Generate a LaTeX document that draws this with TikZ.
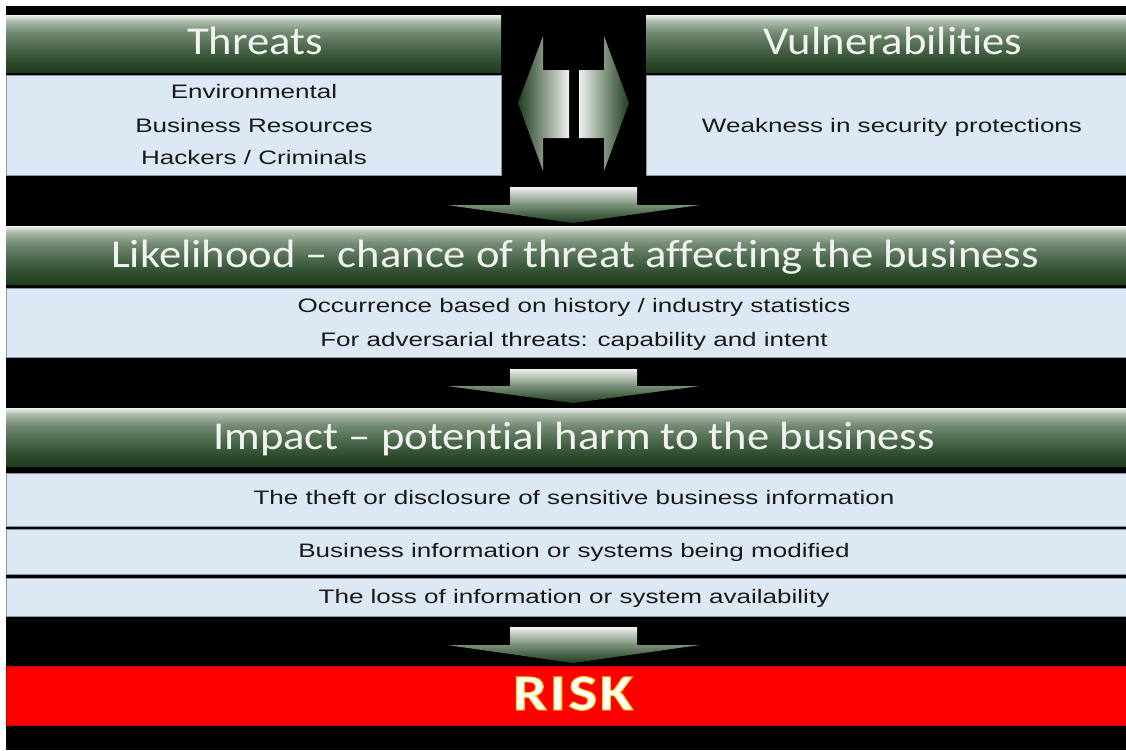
\documentclass[tikz,border=0pt]{standalone}
\usepackage{fontspec}
\setmainfont{Liberation Sans}
\newfontfamily\hdrfont[Ligatures={NoCommon,TeX}]{Carlito}
\usepackage{graphicx}
\definecolor{bodyfill}{RGB}{220,232,244}
\definecolor{bodyline}{RGB}{140,150,165}
\definecolor{gdark}{RGB}{30,62,30}
\definecolor{gd2}{RGB}{40,72,40}
\definecolor{gm1}{RGB}{70,100,70}
\definecolor{gm2}{RGB}{115,138,115}
\definecolor{gl2}{RGB}{175,188,175}
\definecolor{glight}{RGB}{238,241,238}
\definecolor{gmid}{RGB}{120,142,120}
\definecolor{hdrwhite}{RGB}{242,242,242}
\definecolor{riskred}{RGB}{255,0,0}
\definecolor{riskedge}{RGB}{200,0,0}
\pgfdeclareverticalshading{hdrshade}{100bp}{color(0bp)=(gdark); color(25bp)=(gdark); color(32bp)=(gd2); color(45bp)=(gm1); color(60bp)=(gm2); color(70bp)=(gl2); color(75bp)=(glight); color(100bp)=(glight)}
\newcommand{\hdrstretch}[1]{\scalebox{1.13}[1]{#1}}
\newcommand{\bodystretch}[1]{\scalebox{1.335}[1]{#1}}
\newcommand{\outlinedtext}[1]{\textcolor{white}{\special{pdf:literal direct 2 Tr 0.9 w 1 0.8 0 RG}#1\special{pdf:literal direct 0 Tr}}}
\tikzset{
  hdrbox/.style={shade, shading=hdrshade, draw=none, anchor=north west, inner sep=0pt, outer sep=0pt},
  bodybox/.style={fill=bodyfill, draw=bodyline, line width=0.8pt, anchor=north west, inner sep=0pt, outer sep=0pt},
  hdrtext/.style={text=hdrwhite, font=\hdrfont\fontsize{39.5}{44}\selectfont, anchor=base, inner sep=0pt},
  bodytext/.style={text=black!90, font=\fontsize{19.5}{23}\selectfont, anchor=base, inner sep=0pt},
  downarrow/.style={top color=glight, bottom color=gdark, middle color=gmid},
  riskbox/.style={fill=riskred, draw=riskedge, line width=1pt, anchor=north west, inner sep=0pt, outer sep=0pt},
}
\begin{document}
\begin{tikzpicture}[x=1pt,y=-1pt]
\useasboundingbox (0,0) rectangle (1126,750);
\fill[white] (0,0) rectangle (1126,750);
\fill[black] (6,6) rectangle (1126,750);
\begin{scope}
\clip (6,6) rectangle (1126,750);
% Threats
\node[hdrbox, minimum width=495, minimum height=57] (thrH) at (6,15) {};
\node[bodybox, minimum width=495, minimum height=100] (thrB) at (6,75) {};
\node[hdrtext] (thrT) at (255,54) {\hdrstretch{Threats}};
\node[bodytext] (thr1) at (254,98) {\bodystretch{Environmental}};
\node[bodytext] (thr2) at (254,132) {\bodystretch{Business Resources}};
\node[bodytext] (thr3) at (254,164) {\bodystretch{Hackers / Criminals}};
% Vulnerabilities
\node[hdrbox, minimum width=494, minimum height=57] (vulH) at (646,15) {};
\node[bodybox, minimum width=494, minimum height=100] (vulB) at (646,75) {};
\node[hdrtext] (vulT) at (893,54) {\hdrstretch{Vulnerabilities}};
\node[bodytext] (vul1) at (892,132) {\bodystretch{Weakness in security protections}};
% double arrow
\shade[left color=gdark, right color=glight] (518,103) -- (543,36) -- (543,70) -- (569,70) -- (569,138) -- (543,138) -- (543,171) -- cycle;
\shade[left color=glight, right color=gdark] (629,103) -- (604,36) -- (604,70) -- (579,70) -- (579,138) -- (604,138) -- (604,171) -- cycle;
% arrow 1
\shade[downarrow] (510,187) -- (637,187) -- (637,205) -- (700,205) -- (573,223) -- (447,205) -- (510,205) -- cycle;
% Likelihood
\node[hdrbox, minimum width=1134, minimum height=58] (likH) at (6,226) {};
\node[bodybox, minimum width=1134, minimum height=69] (likB) at (6,288) {};
\node[hdrtext] (likT) at (575,267) {\hdrstretch{Likelihood – chance of threat affecting the business}};
\node[bodytext] (lik1) at (574,312) {\bodystretch{Occurrence based on history / industry statistics}};
\node[bodytext] (lik2) at (574,346) {\bodystretch{For adversarial threats: capability and intent}};
% arrow 2
\shade[downarrow] (510,369) -- (637,369) -- (637,386) -- (700,386) -- (573,403) -- (447,386) -- (510,386) -- cycle;
% Impact
\node[hdrbox, minimum width=1134, minimum height=58] (impH) at (6,408) {};
\node[hdrtext] (impT) at (574,449) {\hdrstretch{Impact – potential harm to the business}};
\node[bodybox, minimum width=1134, minimum height=53] (impB1) at (6,473) {};
\node[bodybox, minimum width=1134, minimum height=45] (impB2) at (6,529) {};
\node[bodybox, minimum width=1134, minimum height=38] (impB3) at (6,578) {};
\node[bodytext] (imp1) at (574,504) {\bodystretch{The theft or disclosure of sensitive business information}};
\node[bodytext] (imp2) at (574,557) {\bodystretch{Business information or systems being modified}};
\node[bodytext] (imp3) at (574,603) {\bodystretch{The loss of information or system availability}};
% arrow 3
\shade[downarrow] (510,627) -- (637,627) -- (637,645) -- (700,645) -- (573,663) -- (447,645) -- (510,645) -- cycle;
% RISK
\node[riskbox, minimum width=1134, minimum height=59] (riskB) at (6,666) {};
\node[anchor=base, inner sep=0pt, font=\hdrfont\bfseries\fontsize{51}{56}\selectfont] (riskT) at (573,710) {\scalebox{1.2}[1]{\outlinedtext{R\kern2pt I\kern2pt S\kern2pt K}}};
\end{scope}
\end{tikzpicture}
\end{document}
